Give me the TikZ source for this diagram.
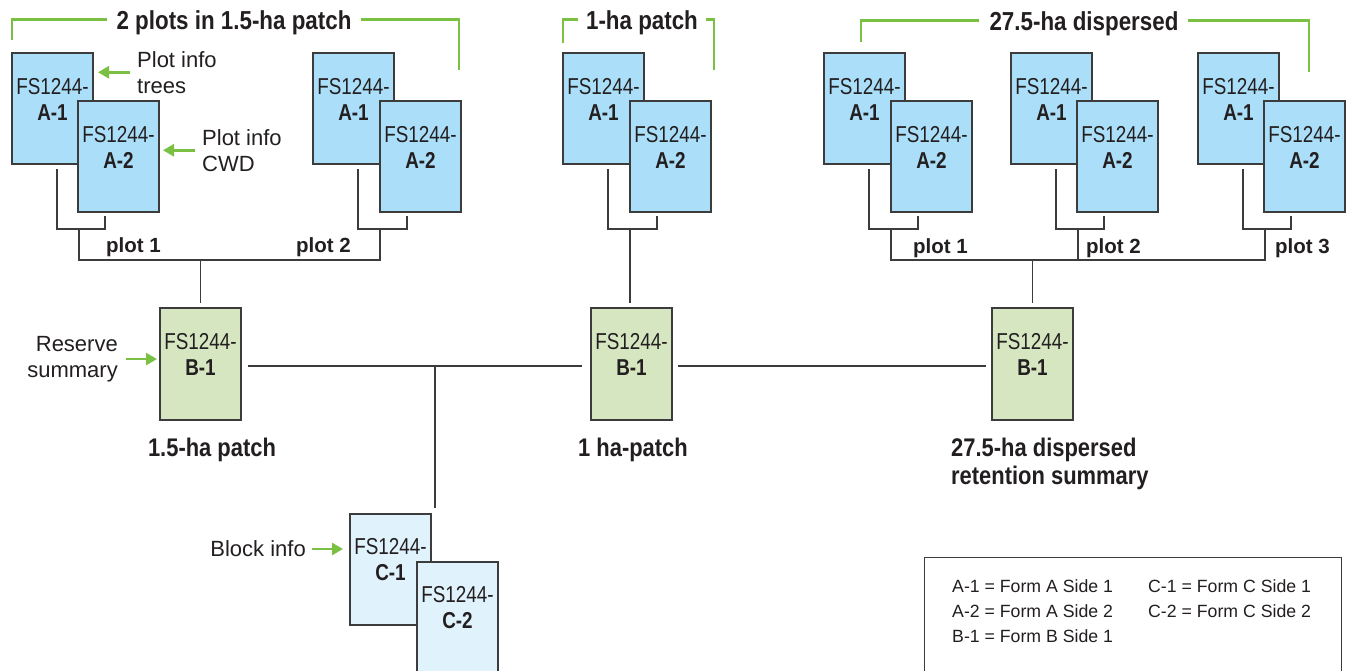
\documentclass[tikz,border=0pt]{standalone}
\usepackage{fontspec}
\setmainfont{Liberation Sans}
\newfontfamily\condf[FakeStretch=0.86]{Liberation Sans}
\newfontfamily\formf[FakeStretch=0.82]{Liberation Sans}
\usetikzlibrary{arrows.meta}
\definecolor{fblue}{RGB}{171,222,248}
\definecolor{fgreen}{RGB}{213,230,193}
\definecolor{fpale}{RGB}{224,242,251}
\definecolor{lgreen}{RGB}{122,193,67}
\definecolor{ink}{RGB}{35,31,32}
\definecolor{edgec}{RGB}{60,60,60}
\tikzset{
 form/.style={draw=edgec, line width=1.3pt, minimum width=81pt, minimum height=111pt, anchor=north west, inner sep=0pt, outer sep=0pt},
 formtxt/.style={font=\formf\fontsize{23}{26}\selectfont, text=ink, align=center, inner sep=0pt},
 conn/.style={draw=edgec, line width=1.2pt},
 gline/.style={draw=lgreen, line width=2.6pt},
 garrow/.style={draw=lgreen, line width=2.6pt, -{Triangle[length=11pt,width=12pt]}},
 ttl/.style={font=\condf\bfseries\fontsize{26}{30}\selectfont, text=ink, inner sep=0pt, text height=19pt, text depth=0pt, anchor=base},
 blbl/.style={font=\condf\bfseries\fontsize{25.5}{28}\selectfont, text=ink, inner sep=0pt, anchor=base},
 lbl/.style={font=\fontsize{22}{26}\selectfont, text=ink, inner sep=0pt},
 plotlbl/.style={font=\bfseries\fontsize{20.5}{24}\selectfont, text=ink, inner sep=0pt, anchor=base west},
 legtxt/.style={font=\fontsize{17.7}{22}\selectfont, text=ink, inner sep=0pt, anchor=base west},
}
\newcommand\formbox[5]{%
  \node[form, fill=#4] (#1) at (#2,#3) {};
  \node[formtxt] (#1-t) at ([yshift=-46pt]#1.north) {FS1244-\\\textbf{#5}};
}
\newcommand\pairlink[3]{%
  \draw[conn] ([shift={(45pt,-5pt)}]#1.south west) -- ([shift={(45pt,-65pt)}]#1.south west) -| ([shift={(27pt,-4pt)}]#2.south west);
  \coordinate (#3) at ([shift={(67pt,-65pt)}]#1.south west);
}
\begin{document}
\begin{tikzpicture}[x=1pt,y=-1pt]
\useasboundingbox[fill=white] (0,0) rectangle (1350,670);

% ---- A forms
\formbox{La1}{12}{53}{fblue}{A-1}
\formbox{La2}{78}{101}{fblue}{A-2}
\formbox{Lb1}{313}{53}{fblue}{A-1}
\formbox{Lb2}{380}{101}{fblue}{A-2}
\formbox{Ma1}{563}{53}{fblue}{A-1}
\formbox{Ma2}{630}{101}{fblue}{A-2}
\formbox{Ra1}{824}{53}{fblue}{A-1}
\formbox{Ra2}{891}{101}{fblue}{A-2}
\formbox{Rb1}{1011}{53}{fblue}{A-1}
\formbox{Rb2}{1077}{101}{fblue}{A-2}
\formbox{Rc1}{1198}{53}{fblue}{A-1}
\formbox{Rc2}{1264}{101}{fblue}{A-2}

% ---- B forms
\node[form, fill=fgreen, minimum height=112pt] (Bl) at (160,308) {};
\node[formtxt] (Bl-t) at ([yshift=-46pt]Bl.north) {FS1244-\\\textbf{B-1}};
\node[form, fill=fgreen, minimum height=112pt] (Bm) at (591,308) {};
\node[formtxt] (Bm-t) at ([yshift=-46pt]Bm.north) {FS1244-\\\textbf{B-1}};
\node[form, fill=fgreen, minimum height=112pt] (Br) at (992,308) {};
\node[formtxt] (Br-t) at ([yshift=-46pt]Br.north) {FS1244-\\\textbf{B-1}};

% ---- C forms
\formbox{C1}{350}{514}{fpale}{C-1}
\formbox{C2}{417}{562}{fpale}{C-2}

% ---- plot connectors
\pairlink{La1}{La2}{jL1}
\pairlink{Lb1}{Lb2}{jL2}
\pairlink{Ma1}{Ma2}{jM}
\pairlink{Ra1}{Ra2}{jR1}
\pairlink{Rb1}{Rb2}{jR2}
\pairlink{Rc1}{Rc2}{jR3}

\coordinate (hL) at ([yshift=-31pt]jL1);
\draw[conn] (jL1) -- (hL) -| (jL2);
\draw[conn, shorten <=5pt] (Bl.north) -- (Bl.north |- hL);

\draw[conn, shorten >=5pt] (jM) -- (jM |- Bm.north);

\coordinate (hR) at ([yshift=-31pt]jR1);
\draw[conn] (jR1) -- (hR) -| (jR3);
\draw[conn] (jR2) -- (jR2 |- hR);
\draw[conn, shorten <=5pt] (Br.north) -- (Br.north |- hR);

% ---- B connectors
\draw[conn, shorten <=7pt, shorten >=9pt] ([yshift=-58pt]Bl.north east) -- ([yshift=-58pt]Bm.north west);
\draw[conn, shorten <=6pt, shorten >=6pt] ([yshift=-58pt]Bm.north east) -- ([yshift=-58pt]Br.north west);
\coordinate (cj) at (435,366);
\draw[conn, shorten >=6pt] (cj) -- (cj |- C1.north);

% ---- plot labels
\node[plotlbl] (p1L) at (106,252) {plot 1};
\node[plotlbl] (p2L) at (296,252) {plot 2};
\node[plotlbl] (p1R) at (913,253) {plot 1};
\node[plotlbl] (p2R) at (1086,253) {plot 2};
\node[plotlbl] (p3R) at (1275,253) {plot 3};

% ---- titles with green brackets
\node[ttl] (t1) at (234,29) {2 plots in 1.5-ha patch};
\coordinate (g1a) at (12,40);
\coordinate (g1d) at (459,70);
\draw[gline] ([xshift=-9pt]t1.west) -| (g1a);
\draw[gline] ([xshift=9pt]t1.east) -| (g1d);

\node[ttl] (t2) at (642,29) {1-ha patch};
\coordinate (g2a) at (563,43);
\coordinate (g2d) at (714,70);
\draw[gline] ([xshift=-8pt]t2.west) -| (g2a);
\draw[gline] ([xshift=8pt]t2.east) -| (g2d);

\node[ttl] (t3) at (1084,30) {27.5-ha dispersed};
\coordinate (g3a) at (861,42);
\coordinate (g3d) at (1309,72);
\draw[gline] ([xshift=-10pt]t3.west) -| (g3a);
\draw[gline] ([xshift=9pt]t3.east) -| (g3d);

% ---- bottom labels of B forms
\node[blbl] (bl1) at (212,456) {1.5-ha patch};
\node[blbl] (bl2) at (633,456) {1 ha-patch};
\node[blbl, anchor=base west] (bl3) at (951,456) {27.5-ha dispersed};
\node[blbl, anchor=base west] (bl3b) at (951,484) {retention summary};

% ---- side labels with green arrows
\node[lbl, anchor=north west, align=left] (pit) at (137,51) {Plot info\\trees};
\draw[garrow, shorten >=5pt] ([xshift=-7pt]pit.west) -- (pit.west -| La1.east);
\node[lbl, anchor=north west, align=left] (pic) at (202,129) {Plot info\\CWD};
\draw[garrow, shorten >=4pt] ([xshift=-7pt]pic.west) -- (pic.west -| La2.east);
\node[lbl, anchor=north east, align=right] (rs) at (118,336) {Reserve\\summary};
\draw[garrow, shorten >=3pt] ([xshift=8pt]rs.east) -- (rs.east -| Bl.west);
\node[lbl, anchor=east] (bi) at (306,549) {Block info};
\draw[garrow, shorten >=7pt] ([xshift=6pt]bi.east) -- (bi.east -| C1.west);

% ---- legend
\node[draw=edgec, line width=1.2pt, minimum width=417pt, minimum height=140pt, anchor=north west, inner sep=0pt] (leg) at (924,557) {};
\node[legtxt] (lg1) at (952,592) {A-1 = Form A Side 1};
\node[legtxt] (lg2) at (952,617) {A-2 = Form A Side 2};
\node[legtxt] (lg3) at (952,642) {B-1 = Form B Side 1};
\node[legtxt] (lg4) at (1148,592) {C-1 = Form C Side 1};
\node[legtxt] (lg5) at (1148,617) {C-2 = Form C Side 2};
\end{tikzpicture}
\end{document}
